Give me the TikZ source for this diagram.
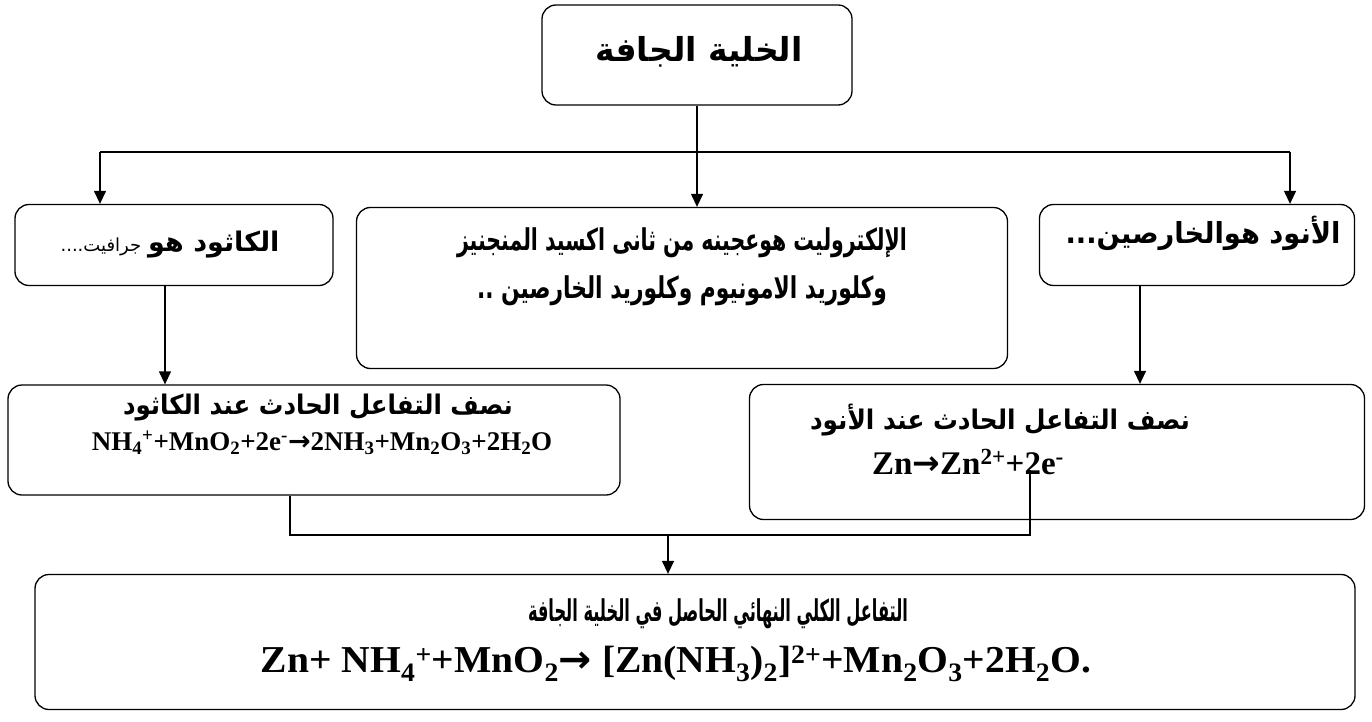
\documentclass[tikz,border=0pt]{standalone}
\usepackage{fontspec}
\usepackage{graphicx}
\setmainfont{Liberation Serif}
\newfontfamily\arabicfont[Script=Arabic]{DejaVu Sans}
\newfontfamily\arrowfont{DejaVu Sans}
\TeXXeTstate=1
\usetikzlibrary{arrows.meta}
\newcommand{\ar}[1]{{\arabicfont\beginR #1\endR}}
\newcommand{\chsub}[1]{\textsubscript{#1}}
\newcommand{\chsup}[1]{\textsuperscript{#1}}
\newcommand{\fitw}[2]{\resizebox{#1}{\height}{#2}}
\newcommand{\rarr}{{\arrowfont\bfseries →}}
\begin{document}
\begin{tikzpicture}[x=1pt,y=-1pt,
  box/.style={draw, line width=1.3pt, rounded corners=14pt, inner sep=0pt},
  conn/.style={line width=1.3pt},
  arr/.style={conn,-{Triangle[width=12pt,length=13pt]}},
  lbl/.style={inner sep=0pt, font=\bfseries}]
\useasboundingbox (0,0) rectangle (1372,722);
% boxes
\node[box, minimum width=310pt, minimum height=100pt] (top) at (697,55) {};
\node[box, minimum width=318pt, minimum height=81pt] (cath) at (174,245) {};
\node[box, minimum width=651pt, minimum height=161pt] (mid) at (682,288) {};
\node[box, minimum width=315pt, minimum height=81pt] (anode) at (1197,245) {};
\node[box, minimum width=612pt, minimum height=110pt] (hcath) at (314,440) {};
\node[box, minimum width=615pt, minimum height=135pt] (hanode) at (1057,452) {};
\node[box, minimum width=1320pt, minimum height=135pt] (final) at (695,642) {};
% texts
\node[lbl, font=\fontsize{33}{38}\selectfont\bfseries] (ttop) at (699,52) {\ar{الخلية الجافة}};
\node[lbl] (tcath) at (170,245) {\ar{{\fontsize{27}{30}\selectfont\bfseries الكاثود هو}\hspace{7pt}{\fontsize{18}{22}\selectfont\mdseries جرافيت....}}};
\node[lbl, font=\fontsize{30}{34}\selectfont\bfseries] (tmid1) at (682,243) {\fitw{450pt}{\ar{الإلكتروليت هوعجينه من ثانى اكسيد المنجنيز}}};
\node[lbl, font=\fontsize{30}{34}\selectfont\bfseries] (tmid2) at (682,291) {\fitw{410pt}{\ar{وكلوريد الامونيوم وكلوريد الخارصين ..}}};
\node[lbl, font=\fontsize{29}{34}\selectfont\bfseries] (tanode) at (1203,233) {\fitw{275pt}{\ar{الأنود هوالخارصين...}}};
\node[lbl, font=\fontsize{27}{30}\selectfont\bfseries] (thc1) at (318,408) {\fitw{390pt}{\ar{نصف التفاعل الحادث عند الكاثود}}};
\node[lbl, font=\fontsize{27}{30}\selectfont\bfseries] (thc2) at (322,443) {NH\chsub{4}\chsup{+}+MnO\chsub{2}+2e\chsup{-}\rarr2NH\chsub{3}+Mn\chsub{2}O\chsub{3}+2H\chsub{2}O};
\node[lbl, font=\fontsize{27}{30}\selectfont\bfseries] (tha1) at (1000,420) {\fitw{380pt}{\ar{نصف التفاعل الحادث عند الأنود}}};
\node[lbl, font=\fontsize{33}{38}\selectfont\bfseries] (tha2) at (968,462) {Zn\rarr Zn\chsup{2+}+2e\chsup{-}};
\node[lbl, font=\fontsize{30}{34}\selectfont\bfseries] (tf1) at (718,614) {\fitw{380pt}{\ar{التفاعل الكلي النهائي الحاصل في الخلية الجافة}}};
\node[lbl, font=\fontsize{38}{42}\selectfont\bfseries] (tf2) at (676,664) {\fitw{830pt}{Zn+ NH\chsub{4}\chsup{+}+MnO\chsub{2}\rarr\ [Zn(NH\chsub{3})\chsub{2}]\chsup{2+}+Mn\chsub{2}O\chsub{3}+2H\chsub{2}O.}};
% connector points
\coordinate (hub) at (697,152);
\coordinate (hl) at (100,152);
\coordinate (hr) at (1290,152);
\coordinate (cx) at (165,0);
\coordinate (ax) at (1140,0);
\coordinate (jl) at (290,535);
\coordinate (jr) at (1030,535);
\coordinate (jm) at (668,535);
\coordinate (js) at (1030,470);
% connectors
\draw[conn] (top.south) -- (hub);
\draw[conn] (hl) -- (hr);
\draw[arr] (hl) -- (hl |- cath.north);
\draw[arr] (hub) -- (hub |- mid.north);
\draw[arr] (hr) -- (hr |- anode.north);
\draw[arr] (cx |- cath.south) -- (cx |- hcath.north);
\draw[arr] (ax |- anode.south) -- (ax |- hanode.north);
\draw[conn] (jl |- hcath.south) -- (jl) -- (jr) -- (js);
\draw[arr] (jm) -- (jm |- final.north);
\end{tikzpicture}
\end{document}
